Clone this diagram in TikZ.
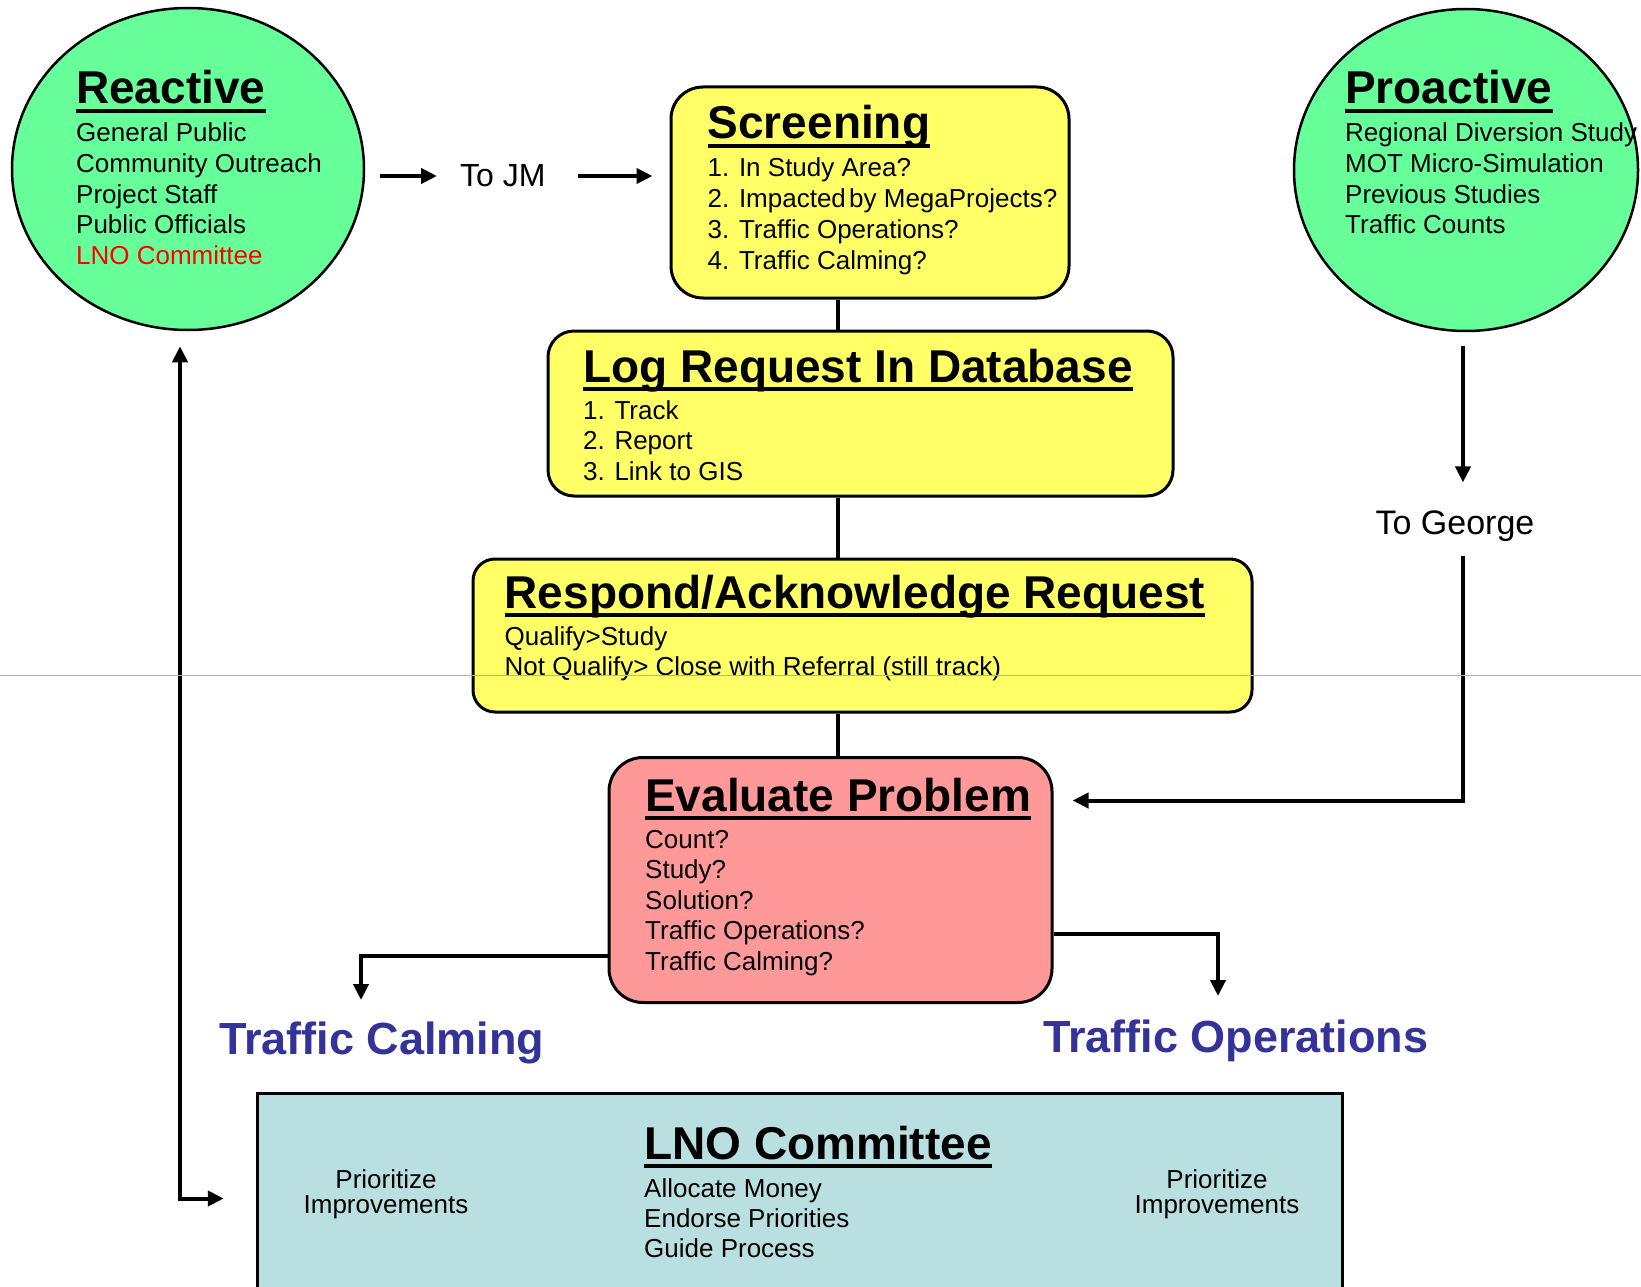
\documentclass[tikz,border=0pt]{standalone}
\usepackage{fontspec}
\setmainfont{Liberation Sans}
\usetikzlibrary{shapes.geometric,arrows.meta,calc}
\definecolor{mint}{HTML}{66FF99}
\definecolor{lemon}{HTML}{FFFF66}
\definecolor{salmon}{HTML}{FF9999}
\definecolor{paleblue}{HTML}{BADFE1}
\definecolor{navy}{HTML}{333399}

\begin{document}
\begin{tikzpicture}[x=1pt,y=-1pt,
  bubble/.style={ellipse, draw=black, line width=2.5pt, fill=mint, inner sep=0pt},
  card/.style={rectangle, draw=black, line width=3pt, inner sep=0pt},
  hd/.style={anchor=base west, inner sep=0pt, font={\fontsize{46}{50}\selectfont\bfseries}},
  ln/.style={anchor=base west, inner sep=0pt, font={\fontsize{26}{30}\selectfont}},
  ctr/.style={anchor=base, inner sep=0pt, font={\fontsize{26}{30}\selectfont}},
  ul/.style={line width=4pt},
  wire/.style={line width=4pt},
  tip/.tip={Triangle[length=16pt,width=15pt]},
  arr/.style={line width=4pt, -tip},
  branch/.style={anchor=base west, inner sep=0pt, font={\fontsize{45}{50}\selectfont\bfseries}, text=navy},
  note/.style={inner sep=0pt},
]
\fill[white] (0,0) rectangle (1641,1287);
\useasboundingbox (0,0) rectangle (1641,1287);

% ---- sources ----
\node[bubble, minimum width=352pt, minimum height=322pt] (reactive) at (188,169) {};
\node[bubble, minimum width=344pt, minimum height=322pt] (proactive) at (1466,170) {};

\node[hd] (reactiveT) at (76,103.5) {Reactive};
\draw[ul] ([yshift=-7.5pt]reactiveT.base west) -- ([yshift=-7.5pt]reactiveT.base east);
\foreach \t [count=\i from 0] in {General Public, Community Outreach, Project Staff, Public Officials}
  \node[ln] (r\i) at (76,142+30.6*\i) {\t};
\node[ln, text=red] (r4) at (76,264.4) {LNO Committee};

\node[hd] (proactiveT) at (1345,103.5) {Proactive};
\draw[ul] ([yshift=-7.5pt]proactiveT.base west) -- ([yshift=-7.5pt]proactiveT.base east);
\foreach \t [count=\i from 0] in {Regional Diversion Study, MOT Micro-Simulation, Previous Studies, Traffic Counts}
  \node[ln] (p\i) at (1345,142+30.6*\i) {\t};

% ---- process boxes ----
\node[card, fill=lemon, rounded corners=32pt, minimum width=398pt, minimum height=211pt] (screening) at (870,192.5) {};
\node[card, fill=lemon, rounded corners=26pt, minimum width=625pt, minimum height=165pt] (log) at (860.5,413.5) {};
\node[card, fill=lemon, rounded corners=22pt, minimum width=779pt, minimum height=153pt] (respond) at (862.5,635.5) {};
\node[card, fill=salmon, rounded corners=34pt, minimum width=443pt, minimum height=245pt] (evaluate) at (830.5,880) {};
\node[card, fill=paleblue, minimum width=1085.5pt, minimum height=217pt] (lno) at (800,1201.5) {};

\node[hd] (screeningT) at (707.5,138.5) {Screening};
\draw[ul] ([yshift=-7.5pt]screeningT.base west) -- ([yshift=-7.5pt]screeningT.base east);
\foreach \t [count=\i from 0] in {1. In Study Area?, 2. Impacted\hspace{-4pt} by MegaProjects?, 3. Traffic Operations?, 4. Traffic Calming?}
  \node[ln] (s\i) at (707.5,176.5+31*\i) {\t};

\node[hd] (logT) at (583,382.5) {Log Request In Database};
\draw[ul] ([yshift=-6.5pt]logT.base west) -- ([yshift=-6.5pt]logT.base east);
\foreach \t [count=\i from 0] in {1. Track, 2. Report, 3. Link to GIS}
  \node[ln] (l\i) at (583,419+30.5*\i) {\t};

\node[hd] (respondT) at (504.5,608) {Respond/Acknowledge Request};
\draw[ul] ([yshift=-7pt]respondT.base west) -- ([yshift=-7pt]respondT.base east);
\node[ln] (q0) at (504.5,645) {Qualify>Study};
\node[ln] (q1) at (504.5,675) {Not Qualify> Close with Referral (still track)};

\node[hd] (evaluateT) at (645,811) {Evaluate Problem};
\draw[ul] ([yshift=-6.5pt]evaluateT.base west) -- ([yshift=-6.5pt]evaluateT.base east);
\foreach \t [count=\i from 0] in {Count?, Study?, Solution?, Traffic Operations?, Traffic Calming?}
  \node[ln] (e\i) at (645,848+30.5*\i) {\t};

\node[hd] (lnoT) at (644,1159) {LNO Committee};
\draw[ul] ([yshift=-7pt]lnoT.base west) -- ([yshift=-7pt]lnoT.base east);
\foreach \t [count=\i from 0] in {Allocate Money, Endorse Priorities, Guide Process}
  \node[ln] (c\i) at (644,1197+30*\i) {\t};
\node[ctr] (pl1) at (386,1188) {Prioritize};
\node[ctr] (pl2) at (386,1213) {Improvements};
\node[ctr] (pr1) at (1217,1188) {Prioritize};
\node[ctr] (pr2) at (1217,1213) {Improvements};

% ---- outcome labels ----
\node[branch] (calm) at (219,1054) {Traffic Calming};
\node[branch] (ops) at (1043,1052) {Traffic Operations};

\node[note, anchor=west, font={\fontsize{32}{35}\selectfont}] (tojm) at (460,176) {To JM};
\node[note, font={\fontsize{34}{37}\selectfont}] (togeorge) at (1455,526) {To George};

% ---- connectors ----
\coordinate (spine) at (838,0);
\draw[wire] (screening.south -| spine) -- (log.north -| spine);
\draw[wire] (log.south -| spine) -- (respond.north -| spine);
\draw[wire] (respond.south -| spine) -- (evaluate.north -| spine);

\draw[arr] ($(reactive.east |- tojm.west)+(15,0)$) -- ($(tojm.west)+(-23,0)$);
\draw[arr] ($(tojm.east)+(32,0)$) -- ($(screening.west |- tojm.east)+(-17,0)$);

\coordinate (pline) at (1463,0);
\coordinate (gy) at (0,800.5);
\draw[arr] ($(proactive.south -| pline)+(0,14)$) -- ($(togeorge.north -| pline)+(0,-28)$);
\draw[arr] ($(togeorge.south -| pline)+(0,14)$) |- ($(evaluate.east |- gy)+(19,0)$);

\coordinate (calmx) at (361,0);
\coordinate (calmy) at (0,956);
\draw[arr] (evaluate.west |- calmy) -| ($(calmx |- calm.base)+(0,-54)$);
\coordinate (opx) at (1218,0);
\coordinate (opy) at (0,933.5);
\draw[arr] (evaluate.east |- opy) -| ($(opx |- ops.base)+(0,-56)$);

\coordinate (loopx) at (180,0);
\coordinate (loopy) at (0,1198.5);
\draw[line width=4pt, tip-tip] ($(loopx |- reactive.south)+(0,15)$) |- ($(lno.west |- loopy)+(-32,0)$);

% faint rule across the sheet
\draw[line width=1pt, gray!60] (0,675) -- (1641,675);
\end{tikzpicture}
\end{document}
